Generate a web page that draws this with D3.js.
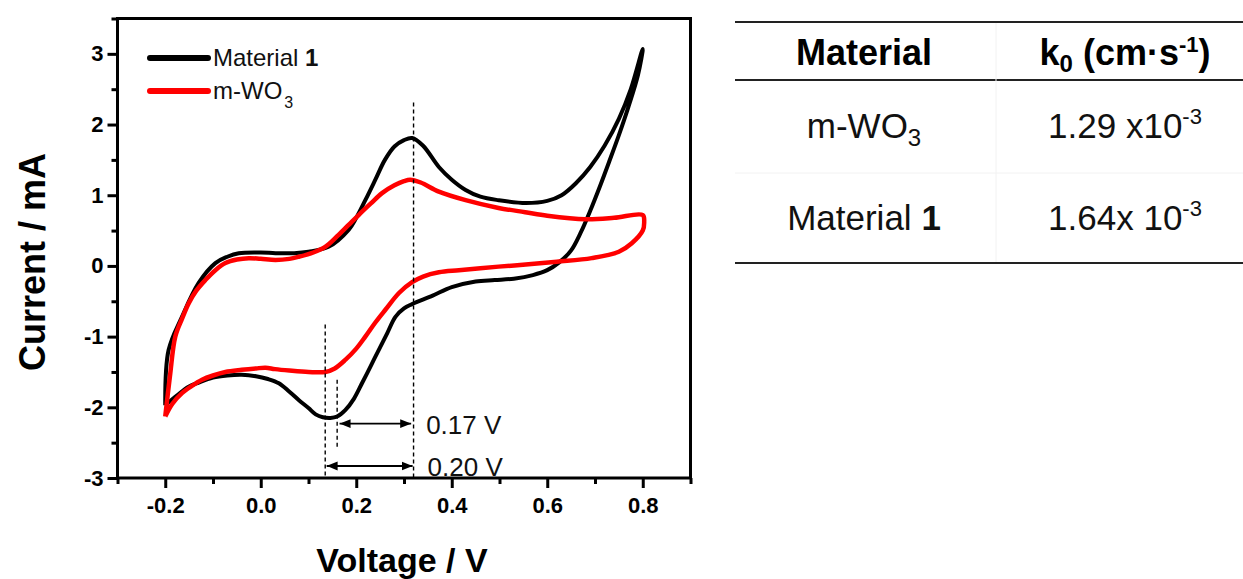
<!DOCTYPE html>
<html>
<head>
<meta charset="utf-8">
<script src="https://cdn.jsdelivr.net/npm/d3@7"></script>
<style>
  html, body { margin: 0; padding: 0; background: #fff; }
  svg { display: block; font-family: "Liberation Sans", Arial, sans-serif; }
</style>
</head>
<body>
<svg id="chart" width="1243" height="579"></svg>
<script>
// ---------- data ----------
const xTickValues = [-0.2, 0.0, 0.2, 0.4, 0.6, 0.8];
const xTickLabels = ["-0.2", "0.0", "0.2", "0.4", "0.6", "0.8"];
const yTickValues = [-3, -2, -1, 0, 1, 2, 3];
const yTickLabels = ["-3", "-2", "-1", "0", "1", "2", "3"];

// Material 1 (black) CV loop: anodic sweep then cathodic sweep
const mat1V = [-0.2, -0.193, -0.165, -0.13, -0.095, -0.07, -0.046, 0.0, 0.031, 0.07, 0.1, 0.142, 0.184, 0.2, 0.219, 0.24, 0.26, 0.28, 0.3, 0.317, 0.34, 0.373, 0.4, 0.429, 0.46, 0.498, 0.555, 0.6, 0.63, 0.66, 0.69, 0.72, 0.75, 0.775, 0.8,
  0.79, 0.77, 0.75, 0.73, 0.71, 0.69, 0.67, 0.65, 0.625, 0.6, 0.57, 0.53, 0.49, 0.45, 0.4, 0.36, 0.317, 0.3, 0.282, 0.265, 0.247, 0.23, 0.212, 0.195, 0.177, 0.16, 0.146, 0.13, 0.115, 0.1, 0.08, 0.06, 0.038, 0.015, -0.01, -0.04, -0.07, -0.1, -0.13, -0.151, -0.175, -0.2];
const mat1I = [-1.97, -1.19, -0.72, -0.24, 0.04, 0.13, 0.18, 0.19, 0.18, 0.18, 0.2, 0.27, 0.51, 0.68, 0.93, 1.22, 1.5, 1.69, 1.78, 1.81, 1.7, 1.4, 1.22, 1.075, 0.98, 0.93, 0.89, 0.92, 1.0, 1.17, 1.4, 1.7, 2.08, 2.5, 3.07,
  2.7, 2.25, 1.85, 1.48, 1.12, 0.78, 0.47, 0.22, 0.05, -0.06, -0.13, -0.18, -0.2, -0.22, -0.3, -0.42, -0.54, -0.6, -0.72, -0.95, -1.19, -1.42, -1.66, -1.88, -2.04, -2.13, -2.15, -2.14, -2.1, -2.01, -1.9, -1.78, -1.66, -1.6, -1.56, -1.54, -1.55, -1.58, -1.65, -1.71, -1.83, -1.97];

// m-WO3 (red) CV loop
const wo3V = [-0.2, -0.19, -0.179, -0.165, -0.151, -0.135, -0.116, -0.095, -0.074, -0.05, -0.025, 0.0, 0.031, 0.06, 0.08, 0.11, 0.135, 0.16, 0.184, 0.205, 0.23, 0.254, 0.28, 0.3, 0.313, 0.335, 0.373, 0.429, 0.498, 0.554, 0.6, 0.68, 0.74, 0.8,
  0.803, 0.8, 0.777, 0.75, 0.693, 0.62, 0.555, 0.498, 0.415, 0.373, 0.34, 0.317, 0.29, 0.261, 0.24, 0.219, 0.2, 0.177, 0.155, 0.135, 0.1, 0.06, 0.03, 0.01, -0.01, -0.04, -0.074, -0.1, -0.123, -0.145, -0.165, -0.185, -0.2];
const wo3I = [-2.13, -1.55, -1.0, -0.75, -0.53, -0.35, -0.2, -0.06, 0.04, 0.09, 0.11, 0.1, 0.085, 0.1, 0.13, 0.19, 0.27, 0.42, 0.58, 0.72, 0.88, 1.03, 1.14, 1.2, 1.22, 1.18, 1.05, 0.93, 0.82, 0.76, 0.71, 0.66, 0.68, 0.72,
  0.62, 0.5, 0.32, 0.2, 0.11, 0.06, 0.02, -0.01, -0.06, -0.09, -0.15, -0.23, -0.38, -0.62, -0.8, -1.0, -1.17, -1.33, -1.45, -1.5, -1.5, -1.48, -1.46, -1.44, -1.45, -1.47, -1.5, -1.55, -1.61, -1.7, -1.8, -1.95, -2.13];

const seriesNames = ["Material 1", "m-WO3"];
const seriesColors = ["#000000", "#ff0000"];

// annotation values
const dashV = [0.32, 0.135, 0.16];
const dashTop = [2.31, -0.83, -1.61];
const dashBottom = [-3.0, -3.0, -2.57];
const arrowI = [-2.23, -2.83];
const arrowFrom = [0.165, 0.138];
const arrowTo = [0.315, 0.318];
const arrowLabels = ["0.17 V", "0.20 V"];

// table
const tableHeaders = ["Material", "k0 (cm·s-1)"];
const tableMaterials = ["m-WO3", "Material 1"];
const tableK0 = ["1.29 x10", "1.64x 10"];
const tableK0Exp = ["-3", "-3"];

// ---------- drawing ----------
const svg = d3.select("#chart");
const L = 117.5, R = 690.5, T = 18.5, B = 478;
const x = d3.scaleLinear().domain([-0.3, 0.9]).range([L, R]);
const y = d3.scaleLinear().domain([-3, 3.5]).range([B, T]);

// curves
const line = d3.line().x(d => x(d[0])).y(d => y(d[1])).curve(d3.curveCatmullRom.alpha(0.5));
const mat1 = mat1V.map((v, i) => [v, mat1I[i]]);
const wo3 = wo3V.map((v, i) => [v, wo3I[i]]);
svg.append("path").attr("d", line(mat1)).attr("fill", "none").attr("stroke", seriesColors[0]).attr("stroke-width", 4).attr("stroke-linejoin", "round");
svg.append("path").attr("d", line(wo3)).attr("fill", "none").attr("stroke", seriesColors[1]).attr("stroke-width", 4.5).attr("stroke-linejoin", "round");

// dashed guide lines
dashV.forEach((v, i) => {
  svg.append("line").attr("x1", x(v)).attr("x2", x(v)).attr("y1", y(dashTop[i])).attr("y2", y(dashBottom[i]))
    .attr("stroke", "#000").attr("stroke-width", 1.4).attr("stroke-dasharray", "4,3");
});

// arrow markers
const defs = svg.append("defs");
defs.append("marker").attr("id", "ah").attr("viewBox", "0 0 10 10").attr("refX", 10).attr("refY", 5)
  .attr("markerWidth", 11).attr("markerHeight", 11).attr("markerUnits", "userSpaceOnUse").attr("orient", "auto-start-reverse")
  .append("path").attr("d", "M0,1 L10,5 L0,9 Z").attr("fill", "#000");
arrowI.forEach((iv, k) => {
  svg.append("line").attr("x1", x(arrowFrom[k])).attr("x2", x(arrowTo[k])).attr("y1", y(iv)).attr("y2", y(iv))
    .attr("stroke", "#000").attr("stroke-width", 1.8)
    .attr("marker-start", "url(#ah)").attr("marker-end", "url(#ah)");
  svg.append("text").attr("x", x(arrowTo[k]) + 15).attr("y", y(iv) + 10)
    .attr("font-size", 26).attr("fill", "#111").text(arrowLabels[k]);
});

// axes
const xMinor = d3.range(-0.3, 0.95, 0.2).map(v => +v.toFixed(2));
const yMinor = d3.range(-2.5, 3.6, 1).map(v => +v.toFixed(2));
const gx = svg.append("g").attr("transform", `translate(0,${B})`);
gx.call(d3.axisBottom(x).tickValues(xTickValues).tickFormat((d, i) => xTickLabels[i]).tickSize(10).tickPadding(9));
gx.append("g").call(d3.axisBottom(x).tickValues(xMinor).tickFormat("").tickSize(6)).select(".domain").remove();
const gy = svg.append("g").attr("transform", `translate(${L},0)`);
gy.call(d3.axisLeft(y).tickValues(yTickValues).tickFormat((d, i) => yTickLabels[i]).tickSize(10).tickPadding(4));
gy.append("g").call(d3.axisLeft(y).tickValues(yMinor).tickFormat("").tickSize(6)).select(".domain").remove();
svg.selectAll(".tick line").attr("stroke", "#000").attr("stroke-width", 3);
svg.selectAll(".domain").attr("stroke", "none");
svg.selectAll(".tick text").attr("font-family", "'Liberation Sans', Arial, sans-serif").attr("font-weight", "bold").attr("font-size", 22).attr("fill", "#000");
// frame
svg.append("rect").attr("x", L).attr("y", T).attr("width", R - L).attr("height", B - T)
  .attr("fill", "none").attr("stroke", "#000").attr("stroke-width", 3);

// axis titles
svg.append("text").attr("x", (L + R) / 2 - 2).attr("y", 572).attr("text-anchor", "middle")
  .attr("font-weight", "bold").attr("font-size", 34).text("Voltage / V");
svg.append("text").attr("transform", `translate(45,${262}) rotate(-90)`).attr("text-anchor", "middle")
  .attr("font-weight", "bold").attr("font-size", 36).text("Current / mA");

// legend
const legY = [58, 91];
seriesNames.forEach((name, i) => {
  svg.append("line").attr("x1", 150).attr("x2", 208).attr("y1", legY[i]).attr("y2", legY[i])
    .attr("stroke", seriesColors[i]).attr("stroke-width", 6).attr("stroke-linecap", "round");
});
const lt1 = svg.append("text").attr("x", 213).attr("y", legY[0] + 8).attr("font-size", 24).attr("fill", "#111");
lt1.append("tspan").text("Material ");
lt1.append("tspan").attr("font-weight", "bold").text("1");
const lt2 = svg.append("text").attr("x", 213).attr("y", legY[1] + 8).attr("font-size", 24).attr("fill", "#111");
lt2.append("tspan").text("m-WO");
lt2.append("tspan").attr("font-size", 16).attr("dx", 2).attr("dy", 9).text("3");

// ---------- table ----------
const tb = svg.append("g");
const tL = 735, tR = 1243, c1 = 864, c2 = 1125;
[22, 80, 263].forEach((yy) => {
  tb.append("line").attr("x1", tL).attr("x2", tR).attr("y1", yy).attr("y2", yy)
    .attr("stroke", "#222").attr("stroke-width", 2);
});
tb.append("line").attr("x1", tL).attr("x2", tR).attr("y1", 173).attr("y2", 173).attr("stroke", "#f2f2f2").attr("stroke-width", 1);
tb.append("line").attr("x1", 996).attr("x2", 996).attr("y1", 23).attr("y2", 262).attr("stroke", "#f2f2f2").attr("stroke-width", 1);

tb.append("text").attr("x", c1).attr("y", 65).attr("text-anchor", "middle").attr("font-weight", "bold").attr("font-size", 36).text(tableHeaders[0]);
const h2 = tb.append("text").attr("x", c2).attr("y", 65).attr("text-anchor", "middle").attr("font-weight", "bold").attr("font-size", 36);
h2.append("tspan").text("k");
h2.append("tspan").attr("font-size", 24).attr("dy", 7).text("0");
h2.append("tspan").attr("dy", -7).text(" (cm·s");
h2.append("tspan").attr("font-size", 22).attr("dy", -13).text("-1");
h2.append("tspan").attr("dy", 13).text(")");

const rowY = [138, 230];
const r1 = tb.append("text").attr("x", c1).attr("y", rowY[0]).attr("text-anchor", "middle").attr("font-size", 35).attr("fill", "#111");
r1.append("tspan").text("m-WO");
r1.append("tspan").attr("font-size", 24).attr("dy", 8).text("3");
const r2 = tb.append("text").attr("x", c1).attr("y", rowY[1]).attr("text-anchor", "middle").attr("font-size", 35).attr("fill", "#111");
r2.append("tspan").text("Material ");
r2.append("tspan").attr("font-weight", "bold").text("1");
tableK0.forEach((m, i) => {
  const t = tb.append("text").attr("x", c2).attr("y", rowY[i]).attr("text-anchor", "middle").attr("font-size", 35).attr("fill", "#111");
  t.append("tspan").text(m);
  t.append("tspan").attr("font-size", 22).attr("dy", -14).text(tableK0Exp[i]);
});
</script>
</body>
</html>
